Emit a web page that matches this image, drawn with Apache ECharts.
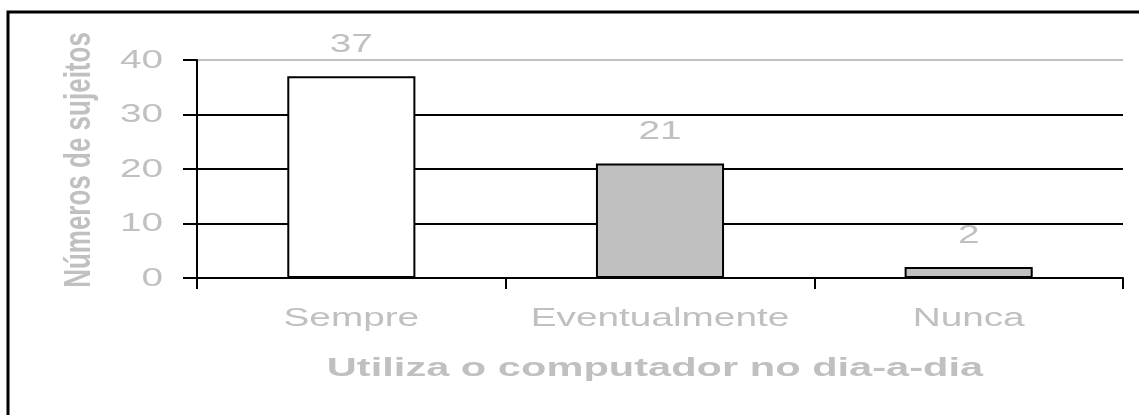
<!DOCTYPE html>
<html>
<head>
<meta charset="utf-8">
<script src="https://cdn.jsdelivr.net/npm/echarts@6/dist/echarts.min.js"></script>
<style>
  html, body { margin: 0; padding: 0; background: #fff; }
  #chart { width: 1139px; height: 415px; }
</style>
</head>
<body>
<div id="chart"></div>
<script>
// dados do gráfico
const categorias = ['Sempre', 'Eventualmente', 'Nunca']
const valores = [37, 21, 2]
const coresBarras = ['#ffffff', '#c0c0c0', '#c0c0c0']
const rotulosY = [0, 10, 20, 30, 40]
const tituloX = 'Utiliza o computador no dia-a-dia'
const tituloY = 'Números de sujeitos'

const cinza = '#c0c0c0'
const fonte = '"Liberation Sans", Arial, sans-serif'
// o texto do original está esticado na horizontal
const esticar = 1.55

const myChart = echarts.init(document.getElementById('chart'))

const moldura = {
  type: 'rect',
  shape: { x: 8, y: 12, width: 1200, height: 500 },
  style: { fill: 'none', stroke: '#000', lineWidth: 3 },
  silent: true
}

const option = {
  backgroundColor: '#fff',
  animation: false,
  graphic: [moldura],
  grid: { left: 197, right: 16, top: 60, bottom: 137 },
  xAxis: {
    type: 'category',
    data: categorias,
    axisLine: { lineStyle: { color: '#000', width: 2 } },
    axisTick: { show: true, length: 11, lineStyle: { color: '#000', width: 2 } },
    axisLabel: { show: false },
    splitLine: { show: false }
  },
  yAxis: {
    type: 'value',
    min: 0,
    max: 40,
    interval: 10,
    axisLine: { show: true, lineStyle: { color: '#000', width: 2 } },
    axisTick: { show: true, length: 14, lineStyle: { color: '#000', width: 2 } },
    axisLabel: { show: false },
    splitLine: {
      show: true,
      lineStyle: { color: ['#000', '#000', '#000', '#000', cinza], width: 2 }
    }
  },
  series: [{
    type: 'bar',
    barWidth: '41.5%',
    data: valores.map((v, i) => ({
      value: v,
      itemStyle: { color: coresBarras[i] }
    })),
    itemStyle: { borderColor: '#000', borderWidth: 2 }
  }]
}

myChart.setOption(option)

// textos esticados, posicionados pelas escalas do próprio gráfico
function texto (x, y, t, extra) {
  return Object.assign({
    type: 'text',
    x: x,
    y: y,
    scaleX: esticar,
    silent: true,
    style: Object.assign({
      text: t,
      fill: cinza,
      fontSize: 25,
      fontFamily: fonte,
      align: 'center',
      verticalAlign: 'middle'
    }, extra && extra.style)
  }, extra && extra.el)
}

const graficos = [moldura]
const y0 = myChart.convertToPixel({ yAxisIndex: 0 }, 0)

categorias.forEach((c, i) => {
  const px = myChart.convertToPixel({ xAxisIndex: 0 }, c)
  graficos.push(texto(px, y0 + 41, c))
  const topo = myChart.convertToPixel({ yAxisIndex: 0 }, valores[i])
  graficos.push(texto(px, topo - 31, String(valores[i])))
})

rotulosY.forEach(v => {
  const py = myChart.convertToPixel({ yAxisIndex: 0 }, v)
  graficos.push(texto(163, py + 1, String(v), { style: { align: 'right' } }))
})

graficos.push(texto(655, 369, tituloX, {
  style: { fontSize: 26, fontWeight: 'bold' },
  el: { scaleX: 1.6 }
}))
graficos.push(texto(80, 160, tituloY, {
  style: { fontSize: 26, fontWeight: 'bold' },
  el: { scaleX: 1, scaleY: 1.4, rotation: Math.PI / 2 }
}))

myChart.setOption({ graphic: graficos })
</script>
</body>
</html>
